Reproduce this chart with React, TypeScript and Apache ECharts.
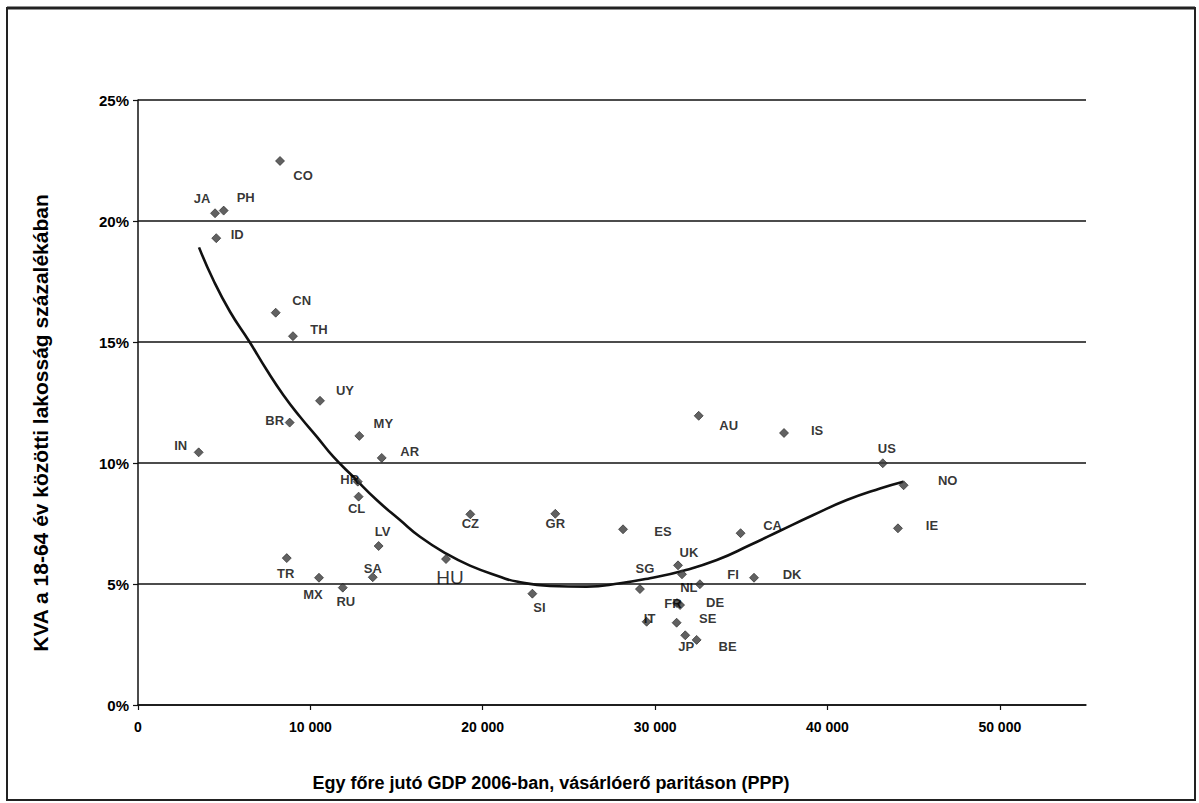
import React, { useEffect, useRef } from "react";
import * as echarts from "echarts";

const countries = ["CO","JA","PH","ID","CN","TH","UY","BR","MY","AR","IN","HR","CL","LV","TR","MX","RU","SA","HU","CZ","GR","ES","SI","SG","UK","FI","NL","FR","DE","IT","SE","JP","BE","DK","CA","AU","IS","US","NO","IE"];
const gdpPPP = [8240,4470,4970,4540,7990,8990,10560,8800,12840,14140,3520,12750,12800,13960,8630,10500,11880,13620,17870,19280,24210,28140,22880,29120,31330,31560,32600,31270,31450,29510,31250,31750,32410,35740,34960,32530,37480,43210,44420,44090];
const kvaShare = [22.48,20.32,20.43,19.29,16.21,15.24,12.57,11.67,11.12,10.21,10.44,9.23,8.61,6.57,6.07,5.26,4.85,5.28,6.03,7.88,7.90,7.26,4.60,4.79,5.77,5.40,4.99,4.21,4.13,3.44,3.40,2.88,2.69,5.26,7.10,11.95,11.24,9.99,9.08,7.30];

const trendGdp = [3540,4370,5340,6440,7470,8430,9400,10370,11330,12490,13850,15200,16360,17910,19260,21000,21970,23900,26030,27970,29700,31640,33580,35510,37250,39180,41120,43050,44400];
const trendKva = [18.91,17.56,16.25,15.04,13.84,12.81,11.91,11.09,10.26,9.43,8.47,7.64,6.95,6.24,5.76,5.30,5.10,4.92,4.89,5.03,5.24,5.55,5.99,6.61,7.20,7.85,8.47,8.95,9.23];

const xTicks = [0, 10000, 20000, 30000, 40000, 50000];

const labelOffsets: Record<string, [number, number]> = {
  CO: [23, 15], JA: [-13, -15], PH: [22, -13], ID: [21, -4], CN: [26, -12], TH: [26, -7],
  UY: [25, -10], BR: [-15, -2], MY: [24, -12], AR: [28, -6], IN: [-18, -7], HR: [-8, -2],
  CL: [-2, 12], LV: [4, -15], TR: [-1, 15], MX: [-6, 17], RU: [3, 14], SA: [0, -9],
  HU: [4, 18], CZ: [0, 9], GR: [0, 10], ES: [40, 2], SI: [7, 14], SG: [5, -21],
  UK: [11, -13], FI: [51, 0], NL: [-11, 3], FR: [-4, 0], DE: [35, -3], IT: [3, -3],
  SE: [31, -4], JP: [1, 11], BE: [31, 7], DK: [38, -3], CA: [32, -8], AU: [30, 10],
  IS: [33, -2], US: [4, -15], NO: [44, -5], IE: [34, -3],
};

const FONT = "'Liberation Sans', Arial, sans-serif";

export default function App() {
  const ref = useRef<HTMLDivElement>(null);
  useEffect(() => {
    if (!ref.current) return;
    const chart = echarts.init(ref.current, null, { renderer: "svg" });
    const scatterData = countries.map((c, i) => ({
      name: c,
      value: [gdpPPP[i], kvaShare[i]],
      label: {
        offset: labelOffsets[c] || [0, 0],
        fontSize: c === "HU" ? 19 : 13,
        fontWeight: c === "HU" ? "normal" : "bold",
      },
    }));
    const trendData = trendGdp.map((x, i) => [x, trendKva[i]]);
    chart.setOption({
      animation: false,
      backgroundColor: "#ffffff",
      textStyle: { fontFamily: FONT, color: "#000" },
      grid: { left: 138, top: 100, width: 948, height: 605, containLabel: false },
      xAxis: {
        type: "value",
        min: 0,
        max: 55000,
        interval: 10000,
        axisLine: { show: true, lineStyle: { color: "#111", width: 1.5 } },
        axisTick: { show: true, length: 5, customValues: xTicks, lineStyle: { color: "#111", width: 1.2 } },
        axisLabel: {
          customValues: xTicks,
          margin: 15,
          fontSize: 14,
          fontWeight: "bold",
          color: "#000",
          fontFamily: FONT,
          formatter: (v: number) => (v === 0 ? "0" : `${Math.round(v / 1000)} 000`),
        },
        splitLine: { show: false },
      },
      yAxis: {
        type: "value",
        min: 0,
        max: 25,
        interval: 5,
        axisLine: { show: true, lineStyle: { color: "#111", width: 1.5 } },
        axisTick: { show: true, length: 5, lineStyle: { color: "#111", width: 1.2 } },
        axisLabel: { fontSize: 15, fontWeight: "bold", color: "#000", margin: 9, fontFamily: FONT, formatter: "{value}%" },
        splitLine: { show: true, lineStyle: { color: "#111", width: 1.5 } },
      },
      series: [
        {
          type: "line",
          data: trendData,
          smooth: 0.5,
          showSymbol: false,
          symbol: "none",
          lineStyle: { color: "#111", width: 2.6 },
          z: 2,
        },
        {
          type: "scatter",
          data: scatterData,
          symbol: "diamond",
          symbolSize: 9,
          itemStyle: { color: "#3a3a3a", borderColor: "#222", borderWidth: 0.8 },
          label: {
            show: true,
            position: "inside",
            formatter: (p: any) => p.name,
            color: "#000",
            fontFamily: FONT,
            align: "center",
            verticalAlign: "middle",
          },
          z: 3,
        },
      ],
      graphic: [
        {
          type: "rect",
          shape: { x: 7, y: 8, width: 1188, height: 792 },
          style: { fill: "none", stroke: "#222", lineWidth: 2 },
          silent: true,
        },
        {
          type: "line",
          shape: { x1: 7, y1: 8, x2: 1195, y2: 8 },
          style: { stroke: "#222", lineWidth: 3 },
          silent: true,
        },
        {
          type: "text",
          x: 40,
          y: 423,
          rotation: Math.PI / 2,
          style: {
            text: "KVA a 18-64 év közötti lakosság százalékában",
            fontSize: 21,
            fontWeight: "bold",
            fontFamily: FONT,
            fill: "#000",
            align: "center",
            verticalAlign: "middle",
          },
        },
        {
          type: "text",
          x: 551,
          y: 783,
          style: {
            text: "Egy főre jutó GDP 2006-ban, vásárlóerő paritáson (PPP)",
            fontSize: 18,
            fontWeight: "bold",
            fontFamily: FONT,
            fill: "#000",
            align: "center",
            verticalAlign: "middle",
          },
        },
      ],
    });
    return () => chart.dispose();
  }, []);
  return <div ref={ref} style={{ position: "fixed", left: 0, top: 0, width: 1199, height: 803 }} />;
}
